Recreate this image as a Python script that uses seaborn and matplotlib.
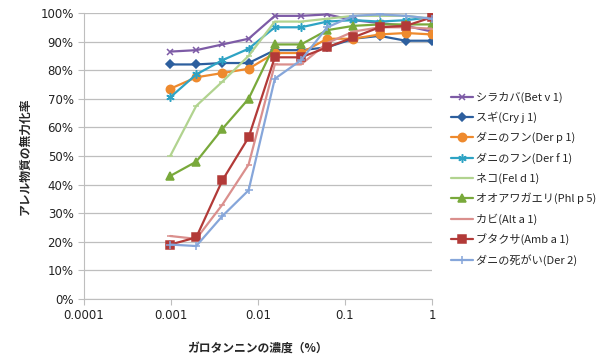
import pandas as pd
import seaborn as sns
import matplotlib
matplotlib.use('Agg')
import matplotlib.pyplot as plt
from matplotlib.ticker import FixedLocator, FuncFormatter, NullLocator

conc = [0.00098, 0.00195, 0.0039, 0.0078, 0.0156, 0.03125, 0.0625, 0.125, 0.25, 0.5, 1.0]

names = ['シラカバ(Bet v 1)', 'スギ(Cry j 1)', 'ダニのフン(Der p 1)', 'ダニのフン(Der f 1)',
         'ネコ(Fel d 1)', 'オオアワガエリ(Phl p 5)', 'カビ(Alt a 1)', 'ブタクサ(Amb a 1)',
         'ダニの死がい(Der 2)']

bet_v1 = [86.5, 87, 89, 91, 99, 99, 99.5, 97.5, 96.5, 95.5, 93.5]
cry_j1 = [82, 82, 82.5, 82.5, 87, 87, 88, 91, 92, 90.3, 90.3]
der_p1 = [73.5, 77.5, 79, 80.5, 86, 86, 91, 91, 92.5, 93, 92.5]
der_f1 = [70.5, 78.5, 83.5, 87.5, 95, 95, 97, 97.5, 97, 97.5, 98.5]
fel_d1 = [50, 67.5, 76, 85, 97, 97, 98, 99, 99, 99, 98]
phl_p5 = [43, 48, 59.5, 70, 89, 89, 94, 95.5, 96, 96, 96]
alt_a1 = [22, 21, 33, 47, 82, 82, 89.5, 93.5, 95, 95, 94.5]
amb_a1 = [19, 21.5, 41.5, 56.5, 84.5, 84.5, 88, 91.5, 95, 95.5, 98.5]
der_2 = [19, 18.5, 29, 38, 77, 83.5, 95, 99, 99.5, 99, 98]

series = [bet_v1, cry_j1, der_p1, der_f1, fel_d1, phl_p5, alt_a1, amb_a1, der_2]

colors = ['#7D5BA6', '#2D5F9E', '#EE8A2E', '#2EA3C4', '#B1D38F',
          '#79A93B', '#DA8F8D', '#B23A38', '#86A6DA']
markers = ['x', 'D', 'o', (6, 2, 0), '_', '^', '_', 's', '+']
msizes = [5, 4.5, 6, 6, 5, 6, 5, 6, 6]

rows = []
for n, vals in zip(names, series):
    for c, v in zip(conc, vals):
        rows.append({'conc': c, 'rate': v, 'name': n})
df = pd.DataFrame(rows)

sns.set_style('white')
plt.rcParams['font.family'] = ['Noto Sans CJK JP', 'DejaVu Sans']

fig = plt.figure(figsize=(6, 3.61), dpi=100)
ax = fig.add_axes([0.14, 0.172, 0.58, 0.792])

for n, col, mk, ms in zip(names, colors, markers, msizes):
    sub = df[df['name'] == n]
    sns.lineplot(data=sub, x='conc', y='rate', ax=ax, color=col, marker=mk,
                 markersize=ms, linewidth=1.6, label=n, markeredgecolor=col,
                 markeredgewidth=1.1)

ax.set_xscale('log')
ax.set_xlim(0.0001, 1)
ax.set_ylim(0, 100)
ax.xaxis.set_major_locator(FixedLocator([0.0001, 0.001, 0.01, 0.1, 1]))
ax.xaxis.set_minor_locator(NullLocator())
ax.xaxis.set_major_formatter(FuncFormatter(lambda v, p: ('%g' % v) if v >= 0.001 else '0.0001'))
ax.set_yticks(range(0, 101, 10))
ax.yaxis.set_major_formatter(FuncFormatter(lambda v, p: '%d%%' % v))
ax.grid(axis='y', color='#BEBEBE', linewidth=0.9)
ax.grid(axis='x', visible=False)
for s in ['top', 'right']:
    ax.spines[s].set_visible(False)
for s in ['left', 'bottom']:
    ax.spines[s].set_color('#BEBEBE')
ax.tick_params(axis='both', which='major', length=4, color='#BEBEBE', labelsize=8.5,
               direction='out', bottom=True, left=True, labelcolor='#222222')
for lab in ax.get_xticklabels() + ax.get_yticklabels():
    lab.set_family('DejaVu Sans')
ax.set_xlabel('ガロタンニンの濃度（%）', fontsize=8.5, fontweight='bold', labelpad=14)
ax.set_ylabel('アレル物質の無力化率', fontsize=8.5, fontweight='bold', labelpad=6)

ax.legend(loc='upper left', bbox_to_anchor=(1.025, 0.76), frameon=False,
          fontsize=8, handlelength=2.0, labelspacing=0.8, handletextpad=0.25)

fig.savefig('out.png', dpi=100)
